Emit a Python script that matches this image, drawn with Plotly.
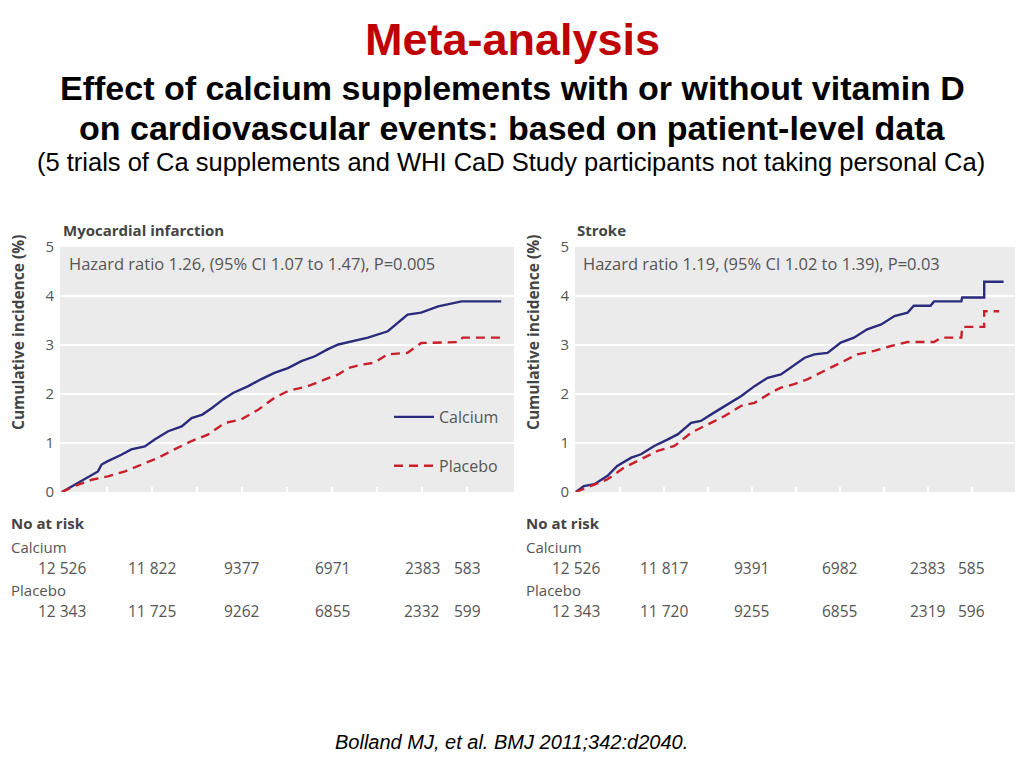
import plotly.graph_objects as go

# ---------------- data ----------------
mi_calcium_t = [0, 0.14, 0.40, 0.44, 0.51, 0.66, 0.77, 0.92, 1.03, 1.18, 1.33, 1.44, 1.56, 1.67, 1.79, 1.90,
                2.07, 2.21, 2.36, 2.51, 2.66, 2.81, 2.95, 3.07, 3.25, 3.40, 3.62, 3.73, 3.84, 3.99, 4.14, 4.18,
                4.44, 4.88]
mi_calcium_y = [0, 0.15, 0.42, 0.56, 0.63, 0.76, 0.87, 0.93, 1.07, 1.24, 1.34, 1.51, 1.58, 1.72, 1.89, 2.02,
                2.16, 2.30, 2.43, 2.53, 2.67, 2.77, 2.91, 3.01, 3.08, 3.15, 3.28, 3.45, 3.62, 3.66, 3.76, 3.79,
                3.89, 3.89]
mi_placebo_t = [0, 0.14, 0.33, 0.51, 0.70, 0.88, 1.07, 1.25, 1.44, 1.62, 1.81, 1.99, 2.18, 2.36, 2.51, 2.73,
                2.92, 3.07, 3.18, 3.33, 3.47, 3.62, 3.84, 3.99, 4.40, 4.45, 4.88]
mi_placebo_y = [0, 0.12, 0.25, 0.32, 0.42, 0.56, 0.70, 0.87, 1.04, 1.17, 1.41, 1.48, 1.68, 1.92, 2.06, 2.16,
                2.30, 2.40, 2.53, 2.60, 2.64, 2.81, 2.84, 3.04, 3.06, 3.15, 3.15]

st_calcium_t = [0, 0.09, 0.21, 0.36, 0.47, 0.63, 0.74, 0.89, 1.04, 1.16, 1.31, 1.42, 1.57, 1.72, 1.88, 2.03,
                2.18, 2.33, 2.44, 2.60, 2.71, 2.86, 3.01, 3.16, 3.31, 3.47, 3.62, 3.77, 3.84, 4.03, 4.07, 4.38,
                4.39, 4.64, 4.64, 4.86]
st_calcium_y = [0, 0.12, 0.16, 0.33, 0.53, 0.70, 0.77, 0.94, 1.07, 1.18, 1.41, 1.45, 1.62, 1.79, 1.96, 2.16,
                2.33, 2.40, 2.54, 2.74, 2.81, 2.84, 3.05, 3.15, 3.32, 3.42, 3.59, 3.66, 3.80, 3.80, 3.89, 3.89,
                3.97, 3.97, 4.29, 4.29]
st_placebo_t = [0, 0.13, 0.36, 0.55, 0.74, 0.93, 1.12, 1.31, 1.50, 1.69, 1.88, 2.03, 2.22, 2.33, 2.48, 2.63,
                2.82, 3.01, 3.20, 3.39, 3.58, 3.77, 4.07, 4.15, 4.38, 4.39, 4.64, 4.64, 4.81]
st_placebo_y = [0, 0.09, 0.26, 0.50, 0.67, 0.84, 0.94, 1.21, 1.38, 1.55, 1.76, 1.82, 2.03, 2.13, 2.20, 2.30,
                2.47, 2.64, 2.81, 2.88, 2.98, 3.06, 3.06, 3.15, 3.15, 3.37, 3.37, 3.69, 3.69]

risk_times = [0, 1, 2, 3, 4, 4.5]
mi_risk_calcium = ["12 526", "11 822", "9377", "6971", "2383", "583"]
mi_risk_placebo = ["12 343", "11 725", "9262", "6855", "2332", "599"]
st_risk_calcium = ["12 526", "11 817", "9391", "6982", "2383", "585"]
st_risk_placebo = ["12 343", "11 720", "9255", "6855", "2319", "596"]

y_ticks = [0, 1, 2, 3, 4, 5]
x_minor_ticks = [0.5, 1, 1.5, 2, 2.5, 3, 3.5, 4, 4.5]

# ---------------- styles ----------------
NAVY = "#2b2a7c"
RED = "#c8202a"
GRAY_TXT = "#555555"
DARK_TXT = "#444444"
PANEL = "#ebebeb"
BMJ_FONT = "Open Sans"
W, H = 1024, 768
OFF = 8  # page body margin offset

fig = go.Figure()

fig.add_trace(go.Scatter(x=mi_calcium_t, y=mi_calcium_y, mode="lines", name="Calcium",
                         line=dict(color=NAVY, width=2.4), xaxis="x", yaxis="y", legendgroup="a"))
fig.add_trace(go.Scatter(x=mi_placebo_t, y=mi_placebo_y, mode="lines", name="Placebo",
                         line=dict(color=RED, width=2.4, dash="9px,6px"), xaxis="x", yaxis="y", legendgroup="b"))
fig.add_trace(go.Scatter(x=st_calcium_t, y=st_calcium_y, mode="lines", name="Calcium", showlegend=False,
                         line=dict(color=NAVY, width=2.4), xaxis="x2", yaxis="y2"))
fig.add_trace(go.Scatter(x=st_placebo_t, y=st_placebo_y, mode="lines", name="Placebo", showlegend=False,
                         line=dict(color=RED, width=2.4, dash="9px,6px"), xaxis="x2", yaxis="y2"))


def px_x(p):
    return (p - OFF) / W


def px_y(p):
    return 1 - (p - OFF) / H


ydom = [px_y(492), px_y(247)]

xaxis_common = dict(showgrid=False, zeroline=False, showticklabels=False, ticks="inside",
                    tickvals=x_minor_ticks, tickcolor="white", ticklen=5, tickwidth=1.5,
                    showline=False, fixedrange=True, automargin=False)
yaxis_common = dict(range=[0, 5], tickvals=y_ticks, showgrid=True, gridcolor="white", gridwidth=2,
                    zeroline=False, showline=False, ticks="", ticklabelstandoff=5, automargin=False,
                    tickfont=dict(family=BMJ_FONT, size=15, color=GRAY_TXT), fixedrange=True)

fig.update_layout(
    width=W, height=H, autosize=False,
    margin=dict(l=0, r=0, t=0, b=0, pad=0),
    paper_bgcolor="white",
    plot_bgcolor=PANEL,
    showlegend=True,
    legend=dict(x=px_x(389), y=px_y(400), xanchor="left", yanchor="top",
                bgcolor="rgba(0,0,0,0)", font=dict(family=BMJ_FONT, size=16, color=GRAY_TXT),
                tracegroupgap=25, traceorder="grouped", itemwidth=40),
    xaxis=dict(domain=[px_x(60), px_x(514)], range=[-0.022, 5.022], anchor="y", **xaxis_common),
    yaxis=dict(domain=ydom, anchor="x", **yaxis_common),
    xaxis2=dict(domain=[px_x(575), px_x(1015)], range=[-0.01, 4.99], anchor="y2", **xaxis_common),
    yaxis2=dict(domain=ydom, anchor="x2", **yaxis_common),
)

ann = []
# Slide titles
ann.append(dict(text="<b>Meta-analysis</b>", x=px_x(512), y=px_y(39), xref="paper", yref="paper",
                showarrow=False, font=dict(family="Liberation Sans", size=45, color="#c00000"),
                xanchor="center", yanchor="middle"))
ann.append(dict(text="<b>Effect of calcium supplements with or without vitamin D</b>", x=px_x(512), y=px_y(88),
                xref="paper", yref="paper", showarrow=False,
                font=dict(family="Liberation Sans", size=34, color="black"), xanchor="center", yanchor="middle"))
ann.append(dict(text="<b>on cardiovascular events: based on patient-level data</b>", x=px_x(512), y=px_y(128),
                xref="paper", yref="paper", showarrow=False,
                font=dict(family="Liberation Sans", size=34, color="black"), xanchor="center", yanchor="middle"))
ann.append(dict(text="(5 trials of Ca supplements and WHI CaD Study participants not taking personal Ca)",
                x=px_x(511), y=px_y(162), xref="paper", yref="paper", showarrow=False,
                font=dict(family="Liberation Sans", size=25.5, color="black"), xanchor="center", yanchor="middle"))
ann.append(dict(text="<i>Bolland MJ, et al. BMJ 2011;342:d2040.</i>", x=px_x(511), y=px_y(742),
                xref="paper", yref="paper", showarrow=False,
                font=dict(family="Liberation Sans", size=20, color="black"), xanchor="center", yanchor="middle"))

panels = [
    dict(x0=61, title="Myocardial infarction", hr="Hazard ratio 1.26, (95% CI 1.07 to 1.47), P=0.005",
         ytitle_x=18, xref="x", rc=mi_risk_calcium, rp=mi_risk_placebo, lab_x=9),
    dict(x0=575, title="Stroke", hr="Hazard ratio 1.19, (95% CI 1.02 to 1.39), P=0.03",
         ytitle_x=533, xref="x2", rc=st_risk_calcium, rp=st_risk_placebo, lab_x=524),
]
for p in panels:
    ann.append(dict(text="<b>" + p["title"] + "</b>", x=px_x(p["x0"]), y=px_y(230), xref="paper", yref="paper",
                    showarrow=False, xanchor="left", yanchor="middle",
                    font=dict(family=BMJ_FONT, size=15, color=DARK_TXT)))
    ann.append(dict(text=p["hr"], x=px_x(p["x0"] + 6), y=px_y(263), xref="paper", yref="paper",
                    showarrow=False, xanchor="left", yanchor="middle",
                    font=dict(family=BMJ_FONT, size=16.5, color=GRAY_TXT)))
    ann.append(dict(text="<b>Cumulative incidence (%)</b>", x=px_x(p["ytitle_x"]), y=px_y(333),
                    xref="paper", yref="paper", showarrow=False, textangle=-90,
                    xanchor="center", yanchor="middle",
                    font=dict(family=BMJ_FONT, size=15.5, color=DARK_TXT)))
    ann.append(dict(text="<b>No at risk</b>", x=px_x(p["lab_x"]), y=px_y(523), xref="paper", yref="paper",
                    showarrow=False, xanchor="left", yanchor="middle",
                    font=dict(family=BMJ_FONT, size=15, color=DARK_TXT)))
    ann.append(dict(text="Calcium", x=px_x(p["lab_x"]), y=px_y(547), xref="paper", yref="paper",
                    showarrow=False, xanchor="left", yanchor="middle",
                    font=dict(family=BMJ_FONT, size=15, color=GRAY_TXT)))
    ann.append(dict(text="Placebo", x=px_x(p["lab_x"]), y=px_y(590), xref="paper", yref="paper",
                    showarrow=False, xanchor="left", yanchor="middle",
                    font=dict(family=BMJ_FONT, size=15, color=GRAY_TXT)))
    for t, c, pl in zip(risk_times, p["rc"], p["rp"]):
        ann.append(dict(text=c, x=t, y=px_y(568), xref=p["xref"], yref="paper", showarrow=False,
                        xanchor="center", yanchor="middle",
                        font=dict(family=BMJ_FONT, size=15.5, color=GRAY_TXT)))
        ann.append(dict(text=pl, x=t, y=px_y(611), xref=p["xref"], yref="paper", showarrow=False,
                        xanchor="center", yanchor="middle",
                        font=dict(family=BMJ_FONT, size=15.5, color=GRAY_TXT)))

fig.update_layout(annotations=ann)
fig.write_html("out.html")
